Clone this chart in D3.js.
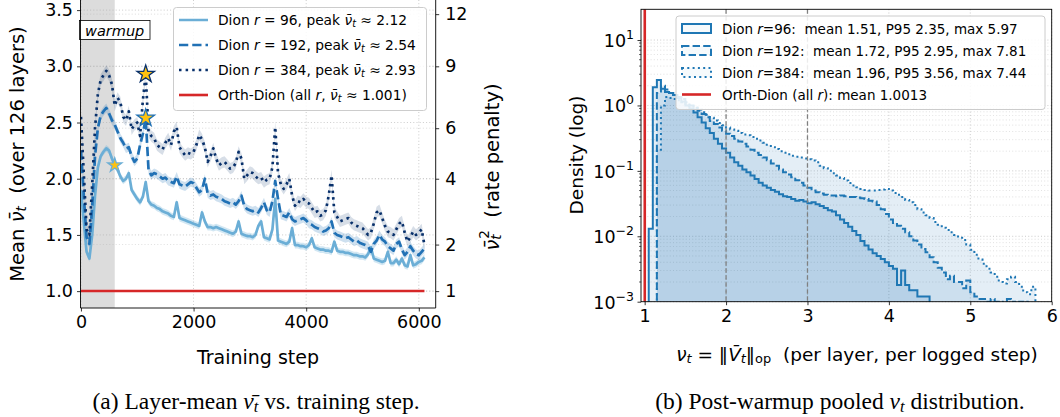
<!DOCTYPE html>
<html lang="en">
<head>
<meta charset="UTF-8">
<title>Dion nu_t</title>
<script src="https://cdn.jsdelivr.net/npm/d3@7"></script>
<style>
  body { margin: 0; background: #fff; }
  text { font-family: "DejaVu Sans", sans-serif; fill: #000; }
  text.cap { font-family: "Liberation Serif", serif; }
</style>
</head>
<body>
<div id="fig"></div>
<script>
// ---------------- data: panel (a) ----------------
var logEvery = 50;   // steps between logged points
var dion96 = [
  1.90, 1.62, 1.35, 1.29, 1.50, 1.85, 2.10, 2.20, 2.24, 2.27,
  2.25, 2.18, 2.12, 2.08, 2.02, 1.98, 2.00, 2.05, 1.90, 1.86,
  1.82, 1.79, 1.84, 1.97, 1.80, 1.77, 1.76, 1.74, 1.73, 1.71,
  1.70, 1.69, 1.67, 1.66, 1.79, 1.65, 1.64, 1.63, 1.62, 1.61,
  1.60, 1.59, 1.58, 1.70, 1.62, 1.57, 1.57, 1.56, 1.57, 1.56,
  1.55, 1.54, 1.53, 1.52, 1.51, 1.53, 1.62, 1.51, 1.50, 1.49,
  1.49, 1.48, 1.50, 1.58, 1.62, 1.48, 1.47, 1.46, 1.55, 1.82,
  1.45, 1.44, 1.43, 1.42, 1.44, 1.56, 1.41, 1.41, 1.40, 1.40,
  1.39, 1.41, 1.47, 1.39, 1.38, 1.37, 1.37, 1.36, 1.36, 1.35,
  1.44, 1.36, 1.35, 1.35, 1.34, 1.34, 1.33, 1.32, 1.32, 1.31,
  1.31, 1.30, 1.33, 1.39, 1.29, 1.28, 1.27, 1.26, 1.27, 1.35,
  1.25, 1.25, 1.28, 1.24, 1.29, 1.23, 1.22, 1.32, 1.23, 1.24,
  1.26, 1.27, 1.30];
var dion192 = [
  2.25, 1.85, 1.48, 1.42, 1.75, 2.20, 2.45, 2.56, 2.60, 2.63,
  2.58, 2.52, 2.48, 2.42, 2.36, 2.32, 2.27, 2.28, 2.20, 2.15,
  2.18, 2.30, 2.40, 2.54, 2.08, 2.03, 2.05, 2.04, 2.02, 2.00,
  2.01, 1.98, 1.97, 1.96, 2.02, 1.95, 1.94, 1.93, 1.95, 1.97,
  1.96, 1.92, 1.88, 1.90, 2.00, 1.87, 1.85, 1.86, 1.84, 1.83,
  1.82, 1.80, 1.79, 1.78, 1.79, 1.77, 1.80, 1.85, 1.76, 1.73,
  1.72, 1.71, 1.72, 1.70, 1.74, 1.79, 1.72, 1.70, 1.80, 1.98,
  1.82, 1.68, 1.67, 1.66, 1.70, 1.64, 1.62, 1.63, 1.64, 1.65,
  1.63, 1.60, 1.59, 1.57, 1.56, 1.55, 1.53, 1.54, 1.56, 1.62,
  1.52, 1.50, 1.49, 1.48, 1.47, 1.48, 1.46, 1.44, 1.45, 1.43,
  1.42, 1.41, 1.40, 1.35, 1.42, 1.45, 1.50, 1.46, 1.44, 1.40,
  1.38, 1.36, 1.42, 1.44, 1.37, 1.32, 1.35, 1.40, 1.36, 1.33,
  1.32, 1.35, 1.38];
var dion384 = [
  2.55, 2.05, 1.55, 1.50, 1.95, 2.45, 2.75, 2.88, 2.92, 2.96,
  2.92, 2.84, 2.65, 2.72, 2.68, 2.55, 2.52, 2.60, 2.44, 2.48,
  2.50, 2.38, 2.70, 2.93, 2.42, 2.38, 2.36, 2.30, 2.28, 2.26,
  2.32, 2.36, 2.30, 2.42, 2.46, 2.28, 2.24, 2.21, 2.23, 2.22,
  2.24, 2.30, 2.39, 2.35, 2.28, 2.15, 2.20, 2.27, 2.18, 2.12,
  2.14, 2.15, 2.12, 2.09, 2.10, 2.14, 2.24, 2.18, 2.00, 2.03,
  2.06, 2.05, 2.02, 2.00, 2.01, 1.97, 1.99, 2.00, 2.10, 2.46,
  2.05, 1.95, 1.91, 1.95, 2.00, 1.85, 1.76, 1.80, 1.79, 1.82,
  1.79, 1.78, 1.74, 1.70, 1.71, 1.67, 1.68, 1.72, 1.85, 2.03,
  1.70, 1.66, 1.62, 1.63, 1.64, 1.65, 1.61, 1.59, 1.58, 1.57,
  1.56, 1.53, 1.50, 1.52, 1.60, 1.70, 1.72, 1.65, 1.58, 1.53,
  1.52, 1.50, 1.55, 1.60, 1.62, 1.52, 1.44, 1.48, 1.53, 1.50,
  1.52, 1.55, 1.41];
var bandHalf = [0.03, 0.04, 0.05];       // spread over layers/seeds
var peakStep = [600, 1150, 1150];
var peakVal = [2.12, 2.54, 2.93];
var orthLevel = 1.001;
var orthEnd = 6100;
var warmupEnd = 600;
var meanTicks = [1.0, 1.5, 2.0, 2.5, 3.0, 3.5];
var penaltyTicks = [1, 2, 4, 6, 9, 12];
var stepTicks = [0, 2000, 4000, 6000];

// ---------------- data: panel (b) ----------------
var binWidth = 0.05;
var histStart = [1.05, 1.15, 1.15];
var hist96 = [
  0.013, 1.9, 2.45, 1.8, 1.6, 1.55, 1.45, 1.3, 1.15, 1.0,
  0.9, 0.78, 0.66, 0.55, 0.45, 0.38, 0.31, 0.26, 0.22, 0.19,
  0.16, 0.135, 0.12, 0.105, 0.095, 0.085, 0.075, 0.066, 0.060, 0.055,
  0.051, 0.048, 0.044, 0.041, 0.040, 0.037, 0.035, 0.036, 0.034, 0.032,
  0.033, 0.031, 0.029, 0.027, 0.025, 0.024, 0.021, 0.018, 0.016, 0.014,
  0.012, 0.0105, 0.0085, 0.0072, 0.0063, 0.0055, 0.0050, 0.0045, 0.0040, 0.0035,
  0.0032, 0.0018, 0.0030, 0.0018, 0.0015, 0.0015, 0.0012, 0.0012, 0.0012];
var hist192 = [
  1.55, 2.0, 1.75, 1.55, 1.45, 1.35, 1.25, 1.12, 1.0, 0.92,
  0.83, 0.74, 0.66, 0.58, 0.52, 0.46, 0.41, 0.37, 0.34, 0.31,
  0.28, 0.26, 0.235, 0.21, 0.19, 0.175, 0.16, 0.145, 0.13, 0.12,
  0.105, 0.095, 0.088, 0.080, 0.072, 0.066, 0.060, 0.055, 0.050, 0.047,
  0.045, 0.043, 0.042, 0.042, 0.041, 0.042, 0.041, 0.040, 0.040, 0.039,
  0.038, 0.037, 0.035, 0.034, 0.030, 0.026, 0.022, 0.018, 0.016, 0.0145,
  0.013, 0.0115, 0.010, 0.0086, 0.0075, 0.0064, 0.0057, 0.0048, 0.004, 0.0033,
  0.0028, 0.0022, 0.0025, 0.0020, 0.0020, 0.0016, 0.0021, 0.0014, 0.0012, 0.0011,
  0.0011, 0.0010, 0.0011, 0.0010, 0.0009, 0.0010, 0.0011, 0.0010, 0.0009, 0.0010,
  0.0009, 0.0010, 0.0009];
var hist384 = [
  0.21, 1.0, 1.35, 1.3, 1.25, 1.2, 1.12, 1.05, 0.98, 0.92,
  0.86, 0.79, 0.72, 0.65, 0.59, 0.54, 0.50, 0.46, 0.43, 0.41,
  0.38, 0.36, 0.35, 0.33, 0.31, 0.29, 0.27, 0.25, 0.23, 0.215,
  0.20, 0.19, 0.18, 0.17, 0.165, 0.16, 0.155, 0.15, 0.144, 0.135,
  0.12, 0.11, 0.10, 0.092, 0.085, 0.078, 0.071, 0.065, 0.060, 0.056,
  0.053, 0.051, 0.050, 0.050, 0.051, 0.052, 0.053, 0.050, 0.046, 0.043,
  0.040, 0.036, 0.033, 0.030, 0.026, 0.023, 0.021, 0.019, 0.0165, 0.0150,
  0.0135, 0.0125, 0.0115, 0.0105, 0.0095, 0.0088, 0.0075, 0.0062, 0.0052, 0.0044,
  0.0038, 0.0032, 0.0028, 0.0024, 0.0020, 0.0019, 0.0022, 0.0024, 0.0020, 0.0017,
  0.0014, 0.0013, 0.0017, 0.0009];
var orthMean = 1.0013;
var refLines = [2, 3];
var nuTicks = [1, 2, 3, 4, 5, 6];
var densityExps = [-3, -2, -1, 0, 1];

var ranks = [96, 192, 384];
var peakLabels = ["2.12", "2.54", "2.93"];
var histStats = [
  "mean 1.51, P95 2.35, max 5.97",
  "mean 1.72, P95 2.95, max 7.81",
  "mean 1.96, P95 3.56, max 7.44"];

// ---------------- styles ----------------
var lineColors = ["#6baed6", "#2171b5", "#08306b"];
var bandOpacity = [0.3, 0.22, 0.16];
var lineDash = [null, "9.25,4", "2.5,4.1"];
var histDash = [null, "7.4,3.2", "2,3.3"];
var histBlue = "#1f77b4";
var red = "#d62728";
var tickFont = 17.5, labelFont = 18.5, legFont = 13.8;

var svg = d3.select("#fig").append("svg")
    .attr("width", 1060).attr("height", 417);
svg.append("rect").attr("width", 1060).attr("height", 417).attr("fill", "#fff");

// mixed text: parts are {t, i, sub, sup, dx}
function rich(sel, parts, size) {
    var cur = 0;
    parts.forEach(function (p) {
        if (typeof p === "string") p = {t: p};
        var shift = p.sub ? size * 0.22 : p.sup ? -size * 0.4 : 0;
        var ts = sel.append("tspan").attr("dy", shift - cur).text(p.t);
        cur = shift;
        if (p.i) ts.attr("font-style", "italic");
        if (p.sub || p.sup) ts.attr("font-size", size * 0.7);
        if (p.dx) ts.attr("dx", p.dx);
    });
    return sel;
}
var NUBAR = "\u03bd\u0304";

function dotGrid(g, x1, y1, x2, y2, op) {
    g.append("line").attr("x1", x1).attr("y1", y1).attr("x2", x2).attr("y2", y2)
        .attr("stroke", "#b0b0b0").attr("stroke-width", 0.8)
        .attr("stroke-dasharray", "1,2.2").attr("opacity", op || 0.8);
}

function styleAxis(g, size, color) {
    g.select(".domain").remove();
    g.selectAll(".tick line").attr("stroke", color || "#000").attr("stroke-width", 0.8);
    g.selectAll(".tick text").attr("font-size", size).attr("fill", color || "#000")
        .attr("font-family", "DejaVu Sans");
}

// =============== panel (a) ===============
var A = {left: 80.5, right: 435.7, top: 0, bottom: 308};
var x = d3.scaleLinear().domain([-8, 6300]).range([A.left, A.right]);
var y = d3.scaleLinear().domain([0.85, 3.59]).range([A.bottom, A.top]);
var yPen = d3.scaleSqrt().domain([0.85 * 0.85, 3.59 * 3.59]).range([A.bottom, A.top]);
var stepOf = function (i) { return i * logEvery; };

svg.append("clipPath").attr("id", "clipA").append("rect")
    .attr("x", A.left).attr("y", A.top).attr("width", A.right - A.left).attr("height", A.bottom - A.top);

var pa = svg.append("g");
pa.append("rect").attr("x", x(0)).attr("y", A.top)
    .attr("width", x(warmupEnd) - x(0)).attr("height", A.bottom - A.top)
    .attr("fill", "#dcdcdc");

var gridA = pa.append("g");
meanTicks.forEach(function (v) { dotGrid(gridA, A.left, y(v), A.right, y(v)); });
stepTicks.forEach(function (s) { dotGrid(gridA, x(s), A.top, x(s), A.bottom); });
penaltyTicks.forEach(function (v) { dotGrid(gridA, A.left, yPen(v), A.right, yPen(v), 0.5); });

var series = [dion96, dion192, dion384];
var plotA = pa.append("g").attr("clip-path", "url(#clipA)");

series.forEach(function (s, k) {
    var area = d3.area()
        .x(function (d, i) { return x(stepOf(i)); })
        .y0(function (d) { return y(d - bandHalf[k]); })
        .y1(function (d) { return y(d + bandHalf[k]); });
    plotA.append("path").datum(s).attr("d", area)
        .attr("fill", lineColors[k]).attr("opacity", bandOpacity[k]);
});
series.forEach(function (s, k) {
    var line = d3.line()
        .x(function (d, i) { return x(stepOf(i)); })
        .y(function (d) { return y(d); });
    plotA.append("path").datum(s).attr("d", line)
        .attr("fill", "none").attr("stroke", lineColors[k]).attr("stroke-width", 2.7)
        .attr("stroke-dasharray", lineDash[k]).attr("stroke-linejoin", "round");
});
plotA.append("line").attr("x1", x(0)).attr("x2", x(orthEnd))
    .attr("y1", y(orthLevel)).attr("y2", y(orthLevel))
    .attr("stroke", red).attr("stroke-width", 2.6);

// peak stars
var starSize = [62, 95, 95];
peakStep.forEach(function (s, k) {
    plotA.append("path")
        .attr("d", d3.symbol().type(d3.symbolStar).size(starSize[k])())
        .attr("transform", "translate(" + x(s) + "," + y(peakVal[k]) + ")")
        .attr("fill", "#ffc20e").attr("stroke", lineColors[k]).attr("stroke-width", 1.3);
});

// warmup tag
pa.append("rect").attr("x", 79.5).attr("y", 20.5).attr("width", 70.5).attr("height", 19)
    .attr("fill", "#fff").attr("stroke", "#000").attr("stroke-width", 0.8);
pa.append("text").attr("x", 114.7).attr("y", 30.5).attr("text-anchor", "middle")
    .attr("dominant-baseline", "central").attr("font-size", 14.5).attr("font-style", "italic")
    .text("warmup");

// axes
var axL = pa.append("g").attr("transform", "translate(" + A.left + ",0)")
    .call(d3.axisLeft(y).tickValues(meanTicks).tickFormat(d3.format(".1f")).tickSize(3.5).tickPadding(4));
styleAxis(axL, tickFont);
var axB = pa.append("g").attr("transform", "translate(0," + A.bottom + ")")
    .call(d3.axisBottom(x).tickValues(stepTicks).tickFormat(d3.format("d")).tickSize(3.5).tickPadding(4));
styleAxis(axB, tickFont);
var axR = pa.append("g").attr("transform", "translate(" + A.right + ",0)")
    .call(d3.axisRight(yPen).tickValues(penaltyTicks).tickFormat(d3.format("d")).tickSize(3.5).tickPadding(6));
styleAxis(axR, tickFont, "#3a3a3a");
axR.selectAll(".tick line").attr("stroke", "#000");

pa.append("line").attr("x1", A.left).attr("x2", A.left).attr("y1", A.top).attr("y2", A.bottom)
    .attr("stroke", "#000").attr("stroke-width", 0.9);
pa.append("line").attr("x1", A.left).attr("x2", A.right).attr("y1", A.bottom).attr("y2", A.bottom)
    .attr("stroke", "#000").attr("stroke-width", 0.9);
pa.append("line").attr("x1", A.right).attr("x2", A.right).attr("y1", A.top).attr("y2", A.bottom)
    .attr("stroke", "#000").attr("stroke-width", 0.9);

// axis labels
pa.append("text").attr("x", 258).attr("y", 357).attr("text-anchor", "middle")
    .attr("dominant-baseline", "central").attr("font-size", labelFont + 0.5).text("Training step");
rich(pa.append("text").attr("transform", "translate(17,154) rotate(-90)")
    .attr("text-anchor", "middle").attr("dominant-baseline", "central").attr("font-size", 19.5)
    .attr("xml:space", "preserve"),
    ["Mean ", {t: NUBAR, i: true}, {t: "t", i: true, sub: true}, {t: "  (over 126 layers)"}], 19.5);
rich(pa.append("text").attr("transform", "translate(492,167) rotate(-90)")
    .attr("text-anchor", "middle").attr("dominant-baseline", "central").attr("font-size", 19.5)
    .attr("fill", "#3a3a3a").attr("xml:space", "preserve"),
    [{t: NUBAR, i: true}, {t: "t", i: true, sub: true}, {t: "2", sup: true, dx: -4.5},
     {t: "  (rate penalty)"}], 19.5);

// legend (a)
var legA = pa.append("g");
legA.append("rect").attr("x", 173.5).attr("y", 7.5).attr("width", 253).attr("height", 103)
    .attr("rx", 3).attr("fill", "#fff").attr("fill-opacity", 0.85)
    .attr("stroke", "#cccccc").attr("stroke-width", 1);
var rowA = [20, 45, 70, 95];
ranks.forEach(function (r, k) {
    legA.append("line").attr("x1", 179).attr("x2", 208).attr("y1", rowA[k]).attr("y2", rowA[k])
        .attr("stroke", lineColors[k]).attr("stroke-width", 2.5).attr("stroke-dasharray", lineDash[k]);
    rich(legA.append("text").attr("x", 218).attr("y", rowA[k]).attr("dominant-baseline", "central")
        .attr("font-size", legFont),
        ["Dion ", {t: "r", i: true}, " = " + r + ", peak ", {t: NUBAR, i: true},
         {t: "t", i: true, sub: true}, " \u2248 " + peakLabels[k]], legFont);
});
legA.append("line").attr("x1", 179).attr("x2", 208).attr("y1", rowA[3]).attr("y2", rowA[3])
    .attr("stroke", red).attr("stroke-width", 2.6);
rich(legA.append("text").attr("x", 218).attr("y", rowA[3]).attr("dominant-baseline", "central")
    .attr("font-size", legFont),
    ["Orth-Dion (all ", {t: "r", i: true}, ", ", {t: NUBAR, i: true},
     {t: "t", i: true, sub: true}, " \u2248 1.001)"], legFont);

// =============== panel (b) ===============
var B = {left: 641, right: 1051.7, top: 9.3, bottom: 301.7};
var hx = d3.scaleLinear().domain([0.955, 6]).range([B.left, B.right]);
var hy = d3.scaleLog().domain([1e-3, 29.5]).range([B.bottom, B.top]);
var pb = svg.append("g");

svg.append("clipPath").attr("id", "clipB").append("rect")
    .attr("x", B.left).attr("y", B.top).attr("width", B.right - B.left).attr("height", B.bottom - B.top);

var gridB = pb.append("g");
densityExps.forEach(function (e) {
    var v = Math.pow(10, e);
    dotGrid(gridB, B.left, hy(v), B.right, hy(v));
    if (e < 1) {
        for (var m = 2; m <= 9; m++) dotGrid(gridB, B.left, hy(m * v), B.right, hy(m * v), 0.45);
    }
});
nuTicks.forEach(function (v) { dotGrid(gridB, hx(v), B.top, hx(v), B.bottom); });

var hists = [hist96, hist192, hist384];
function stepPoints(h, start) {
    var pts = [[start, 1e-4]];
    h.forEach(function (d, i) {
        var lo = start + i * binWidth;
        pts.push([lo, d], [lo + binWidth, d]);
    });
    pts.push([start + h.length * binWidth, 1e-4]);
    return pts;
}
var stepLine = d3.line()
    .x(function (p) { return hx(p[0]); })
    .y(function (p) { return Math.min(hy(Math.max(p[1], 1e-4)), B.bottom + 20); });

var plotB = pb.append("g").attr("clip-path", "url(#clipB)");
[2, 1, 0].forEach(function (k) {
    plotB.append("path").datum(stepPoints(hists[k], histStart[k])).attr("d", stepLine)
        .attr("fill", histBlue).attr("fill-opacity", 0.12).attr("stroke", "none");
});
[2, 1, 0].forEach(function (k) {
    plotB.append("path").datum(stepPoints(hists[k], histStart[k])).attr("d", stepLine)
        .attr("fill", "none").attr("stroke", histBlue).attr("stroke-width", 2)
        .attr("stroke-dasharray", histDash[k]);
});
refLines.forEach(function (v) {
    plotB.append("line").attr("x1", hx(v)).attr("x2", hx(v)).attr("y1", B.top).attr("y2", B.bottom)
        .attr("stroke", "#808080").attr("stroke-width", 1.3).attr("stroke-dasharray", "4.5,2.5");
});
plotB.append("line").attr("x1", hx(orthMean)).attr("x2", hx(orthMean))
    .attr("y1", B.top).attr("y2", B.bottom).attr("stroke", red).attr("stroke-width", 2.6);

// axes (b)
var bxAx = pb.append("g").attr("transform", "translate(0," + B.bottom + ")")
    .call(d3.axisBottom(hx).tickValues(nuTicks).tickFormat(d3.format("d")).tickSize(3.5).tickPadding(4));
styleAxis(bxAx, tickFont);
var byAx = pb.append("g").attr("transform", "translate(" + B.left + ",0)")
    .call(d3.axisLeft(hy).tickValues(densityExps.map(function (e) { return Math.pow(10, e); }))
        .tickFormat("").tickSize(3.5));
styleAxis(byAx, tickFont);
densityExps.forEach(function (e) {
    var t = pb.append("text").attr("x", B.left - 7).attr("y", hy(Math.pow(10, e)) + 1)
        .attr("text-anchor", "end").attr("dominant-baseline", "central").attr("font-size", tickFont);
    t.append("tspan").text("10");
    t.append("tspan").attr("dy", -7).attr("font-size", 12.5).text(e < 0 ? "\u2212" + (-e) : String(e));
    if (e < 1) {
        for (var m = 2; m <= 9; m++) {
            pb.append("line").attr("x1", B.left - 2).attr("x2", B.left)
                .attr("y1", hy(m * Math.pow(10, e))).attr("y2", hy(m * Math.pow(10, e)))
                .attr("stroke", "#000").attr("stroke-width", 0.6);
        }
    }
});
pb.append("rect").attr("x", B.left).attr("y", B.top).attr("width", B.right - B.left)
    .attr("height", B.bottom - B.top).attr("fill", "none").attr("stroke", "#000").attr("stroke-width", 0.9);

rich(pb.append("text").attr("x", 857).attr("y", 354).attr("text-anchor", "middle")
    .attr("dominant-baseline", "central").attr("font-size", labelFont).attr("xml:space", "preserve"),
    [{t: "\u03bd", i: true}, {t: "t", i: true, sub: true}, " = \u2016", {t: "V\u0304", i: true},
     {t: "t", i: true, sub: true}, "\u2016", {t: "op", sub: true}, "  (per layer, per logged step)"], labelFont);
pb.append("text").attr("transform", "translate(576,155) rotate(-90)")
    .attr("text-anchor", "middle").attr("dominant-baseline", "central").attr("font-size", labelFont)
    .text("Density (log)");

// legend (b)
var legB = pb.append("g");
legB.append("rect").attr("x", 676).attr("y", 16).attr("width", 369).attr("height", 93.5)
    .attr("rx", 3).attr("fill", "#fff").attr("fill-opacity", 0.85)
    .attr("stroke", "#cccccc").attr("stroke-width", 1);
var rowB = [28.5, 50.5, 72.5, 94.5];
ranks.forEach(function (r, k) {
    legB.append("rect").attr("x", 682).attr("y", rowB[k] - 4.5).attr("width", 29).attr("height", 9)
        .attr("fill", histBlue).attr("fill-opacity", 0.04)
        .attr("stroke", histBlue).attr("stroke-width", 2).attr("stroke-dasharray", histDash[k]);
    rich(legB.append("text").attr("x", 722).attr("y", rowB[k]).attr("dominant-baseline", "central")
        .attr("font-size", 13.5).attr("xml:space", "preserve"),
        ["Dion ", {t: "r", i: true}, "=" + r + ":  " + histStats[k]], 13.5);
});
legB.append("line").attr("x1", 682).attr("x2", 711).attr("y1", rowB[3]).attr("y2", rowB[3])
    .attr("stroke", red).attr("stroke-width", 2.6);
rich(legB.append("text").attr("x", 722).attr("y", rowB[3]).attr("dominant-baseline", "central")
    .attr("font-size", 13.5),
    ["Orth-Dion (all ", {t: "r", i: true}, "): mean " + orthMean], 13.5);

// captions
rich(svg.append("text").attr("class", "cap").attr("x", 256).attr("y", 401)
    .attr("text-anchor", "middle").attr("dominant-baseline", "central").attr("font-size", 23.5),
    ["(a) Layer-mean ", {t: NUBAR, i: true}, {t: "t", i: true, sub: true}, " vs. training step."], 23.5);
rich(svg.append("text").attr("class", "cap").attr("x", 840).attr("y", 401)
    .attr("text-anchor", "middle").attr("dominant-baseline", "central").attr("font-size", 23.5),
    ["(b) Post-warmup pooled ", {t: "\u03bd", i: true}, {t: "t", i: true, sub: true}, " distribution."], 23.5);
</script>
</body>
</html>
